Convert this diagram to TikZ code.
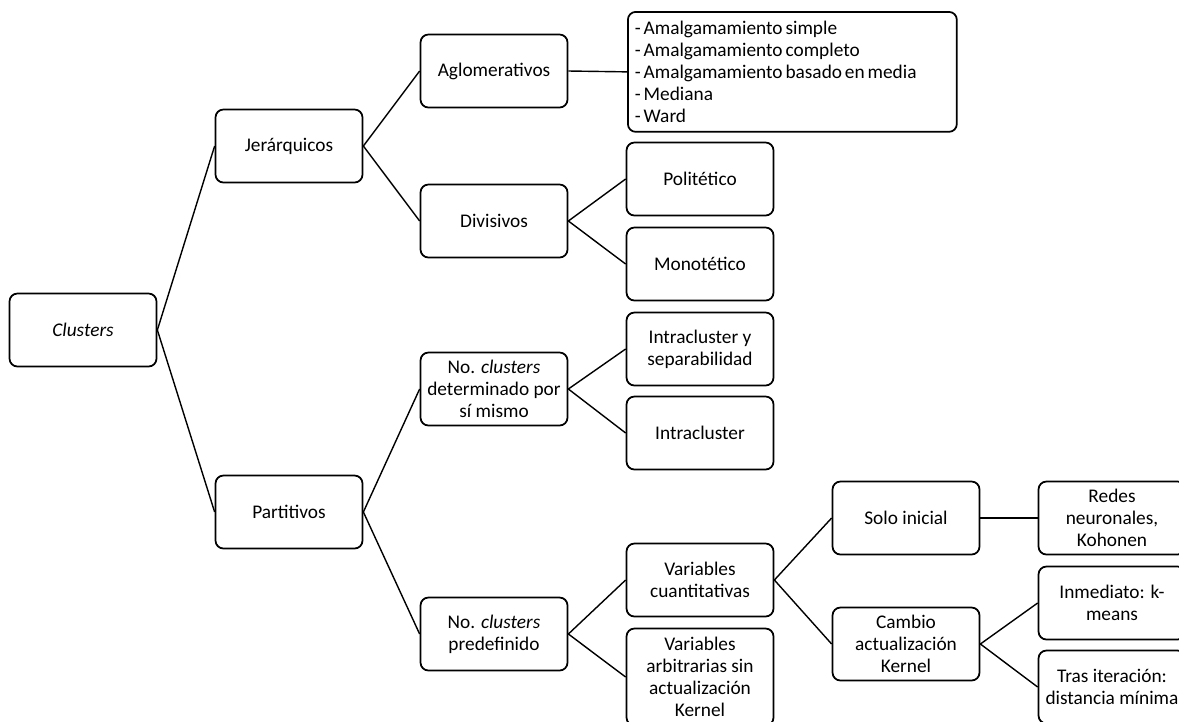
\documentclass[tikz,border=0pt]{standalone}
\usepackage{fontspec}
\setmainfont{Carlito}
\begin{document}
\begin{tikzpicture}[x=0.02cm, y=-0.02cm,
  font=\fontsize{11}{12.5}\selectfont,
  box/.style={draw, line width=1pt, rounded corners=4.5pt, minimum width=2.94cm,
    minimum height=1.46cm, align=center, inner sep=2pt},
  link/.style={line width=0.8pt}]
  \useasboundingbox (0,0) rectangle (1179,721);
  %% Root and first level
  \node[box] (clusters) at (83,330) {\textit{Clusters}};
  \node[box] (jerar) at (289,146) {Jerárquicos};
  \node[box] (partit) at (289,512) {Partitivos};
  %% Hierarchical branch
  \node[box] (aglo) at (494,71) {Aglomerativos};
  \node[box] (divis) at (494,221) {Divisivos};
  \node[box, anchor=north west, minimum width=6.58cm, minimum height=2.4cm,
    text width=6.3cm, align=left, inner xsep=2pt] (amalg) at (627,11)
    {\spaceskip=0.15em\relax
     - Amalgamamiento simple\\- Amalgamamiento completo\\- Amalgamamiento basado en media\\- Mediana\\- Ward};
  \node[box] (polit) at (700,179) {Politético};
  \node[box] (monot) at (700,264) {Monotético};
  %% Partitive branch
  \node[box] (determ) at (494,389) {No. \textit{clusters}\\determinado por\\sí mismo};
  \node[box] (predef) at (494,634) {No. \textit{clusters}\\predefinido};
  \node[box] (intsep) at (700,349) {Intracluster y\\separabilidad};
  \node[box] (intra) at (700,433) {Intracluster};
  \node[box] (cuanti) at (700,580) {Variables\\cuantitativas};
  \node[box, minimum height=1.94cm] (arbitr) at (700,677)
    {Variables\\arbitrarias sin\\actualización\\Kernel};
  \node[box] (solo) at (906,518) {Solo inicial};
  \node[box] (cambio) at (906,644) {Cambio\\actualización\\Kernel};
  \node[box] (redes) at (1112,518) {Redes\\neuronales,\\Kohonen};
  \node[box] (inmed) at (1112,603) {Inmediato: k-\\means};
  \node[box] (tras) at (1112,687) {Tras iteración:\\distancia mínima};
  %% Connectors
  \foreach \a/\b in {clusters/jerar, clusters/partit, jerar/aglo, jerar/divis,
      aglo/amalg, divis/polit, divis/monot, partit/determ, partit/predef,
      determ/intsep, determ/intra, predef/cuanti, predef/arbitr,
      cuanti/solo, cuanti/cambio, solo/redes, cambio/inmed, cambio/tras}{
    \draw[link] (\a.east) -- (\b.west);
  }
\end{tikzpicture}
\end{document}
